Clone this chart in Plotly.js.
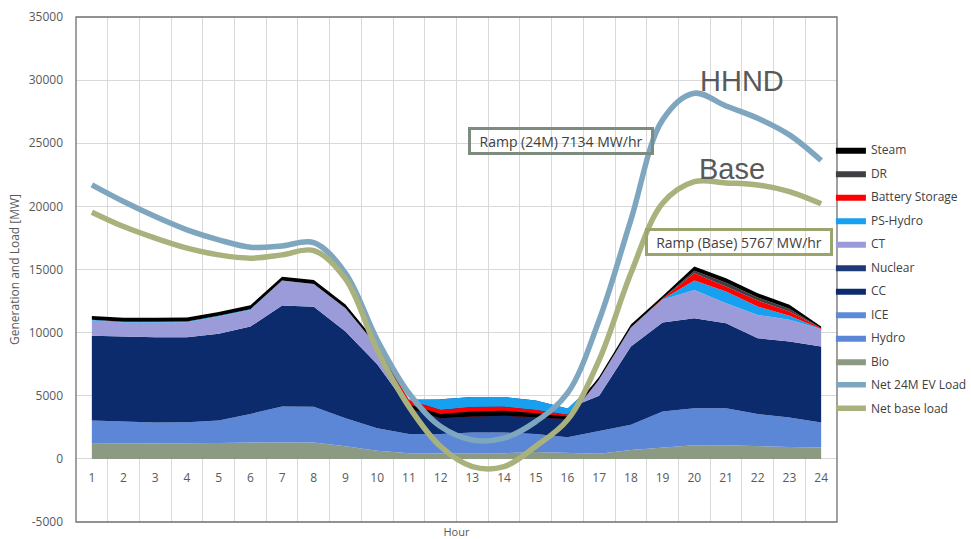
<!DOCTYPE html>
<html>
<head>
<meta charset="utf-8">
<script src="https://cdn.plot.ly/plotly-3.0.1.min.js"></script>
<style>html,body{margin:0;padding:0;background:#fff;}#chart{width:971px;height:539px;}</style>
</head>
<body>
<div id="chart"></div>
<script>
// Hours (categories)
const hours = [1,2,3,4,5,6,7,8,9,10,11,12,13,14,15,16,17,18,19,20,21,22,23,24];

// Generation by source [MW] (stack order bottom -> top)
const bio      = [1200,1200,1200,1200,1250,1300,1300,1300,1000,650,450,420,450,450,550,450,400,710,870,1080,1080,1000,950,900];
const hydro    = [1840,1760,1680,1700,1790,2260,2840,2820,2220,1780,1530,1560,1640,1640,1430,1270,1800,1990,2880,2930,2930,2560,2320,1980];
const ice      = [0,0,0,0,0,0,0,0,0,0,0,0,0,0,0,0,0,0,0,0,0,0,0,0];
const cc       = [6710,6710,6750,6740,6870,6920,8000,7920,6860,5070,2030,2750,2810,2810,2640,2280,2800,6200,7050,7130,6740,6000,6020,6030];
const nuclear  = [0,0,0,0,0,0,0,0,0,0,0,0,0,0,0,0,0,0,0,0,0,0,0,0];
const ct       = [1210,1140,1180,1190,1370,1320,1980,1820,1850,1400,700,0,0,0,0,0,1300,1500,1800,2240,1580,1840,1720,1370];
const psHydro  = [60,60,60,60,60,60,0,0,0,0,-50,-850,-800,-780,-740,-500,0,0,50,740,920,660,320,0];
const battery  = [0,0,0,0,0,0,0,0,0,0,-650,-660,-740,-710,-580,-360,0,0,50,580,400,480,340,60];
const dr       = [0,0,0,0,0,0,0,0,0,0,0,0,0,0,0,0,0,0,0,200,300,250,230,0];
const steam    = [300,300,300,300,300,300,300,300,300,250,300,340,400,400,320,210,200,250,200,330,350,330,300,150];

// Net loads [MW]
const net24M   = [21700,20380,19190,18140,17350,16770,16870,17130,14700,9420,5200,2560,1500,1640,2950,5200,11000,18930,26850,28960,27950,26980,25660,23630];
const netBase  = [19540,18400,17480,16690,16160,15900,16160,16500,14250,8630,4140,975,-610,-610,1000,3090,7840,14700,20250,21960,21860,21700,21170,20200];

// Axis tick labels
const yTickVals = [-5000,0,5000,10000,15000,20000,25000,30000,35000];
const yTickText = ['-5000','0','5000','10000','15000','20000','25000','30000','35000'];

const areaDefs = [
  {name:'Bio', y:bio, color:'#8c9a84', rank:10},
  {name:'Hydro', y:hydro, color:'#5b87d6', rank:9},
  {name:'ICE', y:ice, color:'#5d8ad8', rank:8},
  {name:'CC', y:cc, color:'#0b2b6c', rank:7},
  {name:'Nuclear', y:nuclear, color:'#203a78', rank:6},
  {name:'CT', y:ct, color:'#9a9bd8', rank:5},
  {name:'PS-Hydro', y:psHydro, color:'#18a0f0', rank:4},
  {name:'Battery Storage', y:battery, color:'#ff0000', rank:3},
  {name:'DR', y:dr, color:'#3f3f44', rank:2},
  {name:'Steam', y:steam, color:'#000000', rank:1}
];

const traces = areaDefs.map(d => ({
  type:'scatter', mode:'lines', x:hours, y:d.y, name:d.name,
  stackgroup:'gen', line:{width:0, color:d.color}, fillcolor:d.color,
  legendrank:d.rank, legendgroup:d.name, hoverinfo:'x+y+name'
}));

traces.push({type:'scatter', mode:'lines', x:hours, y:net24M, name:'Net 24M EV Load',
  line:{color:'#7fa6bf', width:5.5, shape:'spline', smoothing:1}, legendrank:11, legendgroup:'ev'});
traces.push({type:'scatter', mode:'lines', x:hours, y:netBase, name:'Net base load',
  line:{color:'#a9b27c', width:5.5, shape:'spline', smoothing:1}, legendrank:12, legendgroup:'base'});

const grey = '#595959';
const layout = {
  width:971, height:539,
  margin:{l:76, r:134, t:17, b:17, autoexpand:false},
  paper_bgcolor:'#ffffff', plot_bgcolor:'#ffffff',
  font:{family:'Open Sans, sans-serif', color:grey},
  showlegend:true,
  legend:{x:0.992, xanchor:'left', y:0.766, yanchor:'top', traceorder:'grouped',
          tracegroupgap:4.5, font:{size:12, color:'#404040'}, bgcolor:'rgba(0,0,0,0)'},
  xaxis:{range:[0.5,24.5], tickmode:'linear', tick0:1, dtick:1,
         anchor:'free', position:0.125, showgrid:false, zeroline:false, showline:false,
         ticks:'', ticklabelstandoff:10, tickfont:{size:12, color:grey},
         minor:{tickmode:'linear', tick0:0.5, dtick:1, showgrid:true, gridcolor:'#d9d9d9', gridwidth:1, ticks:''},
         title:{text:'Hour', font:{size:11, color:grey}, standoff:45}},
  yaxis:{range:[-5000,35000], tickmode:'array', tickvals:yTickVals, ticktext:yTickText,
         showgrid:true, gridcolor:'#d9d9d9', gridwidth:1, zeroline:false, showline:false,
         ticks:'', ticklabelstandoff:12, tickfont:{size:12, color:grey},
         title:{text:'Generation and Load [MW]', font:{size:12, color:grey}, standoff:6}},
  shapes:[{type:'rect', xref:'paper', yref:'paper', x0:0, x1:1, y0:0, y1:1,
           line:{color:'#6f6f6f', width:1.3}, fillcolor:'rgba(0,0,0,0)', layer:'above'}],
  annotations:[
    {x:21.5, y:29920, xref:'x', yref:'y', text:'HHND', showarrow:false,
     font:{family:'Liberation Sans, Arial, sans-serif', size:29, color:grey}},
    {x:21.2, y:22950, xref:'x', yref:'y', text:'Base', showarrow:false,
     font:{family:'Liberation Sans, Arial, sans-serif', size:29, color:grey}},
    {x:15.8, y:25200, xref:'x', yref:'y', text:'Ramp (24M) 7134 MW/hr', showarrow:false,
     font:{size:14, color:'#404040'}, bordercolor:'#7d8c7e', borderwidth:3, borderpad:1,
     width:178, height:20, bgcolor:'rgba(255,255,255,0)'},
    {x:21.4, y:17150, xref:'x', yref:'y', text:'Ramp (Base) 5767 MW/hr', showarrow:false,
     font:{size:14, color:'#404040'}, bordercolor:'#9aa56e', borderwidth:3, borderpad:1,
     width:180, height:20, bgcolor:'rgba(255,255,255,0)'}
  ]
};

Plotly.newPlot('chart', traces, layout, {displayModeBar:false, staticPlot:true});
</script>
</body>
</html>
